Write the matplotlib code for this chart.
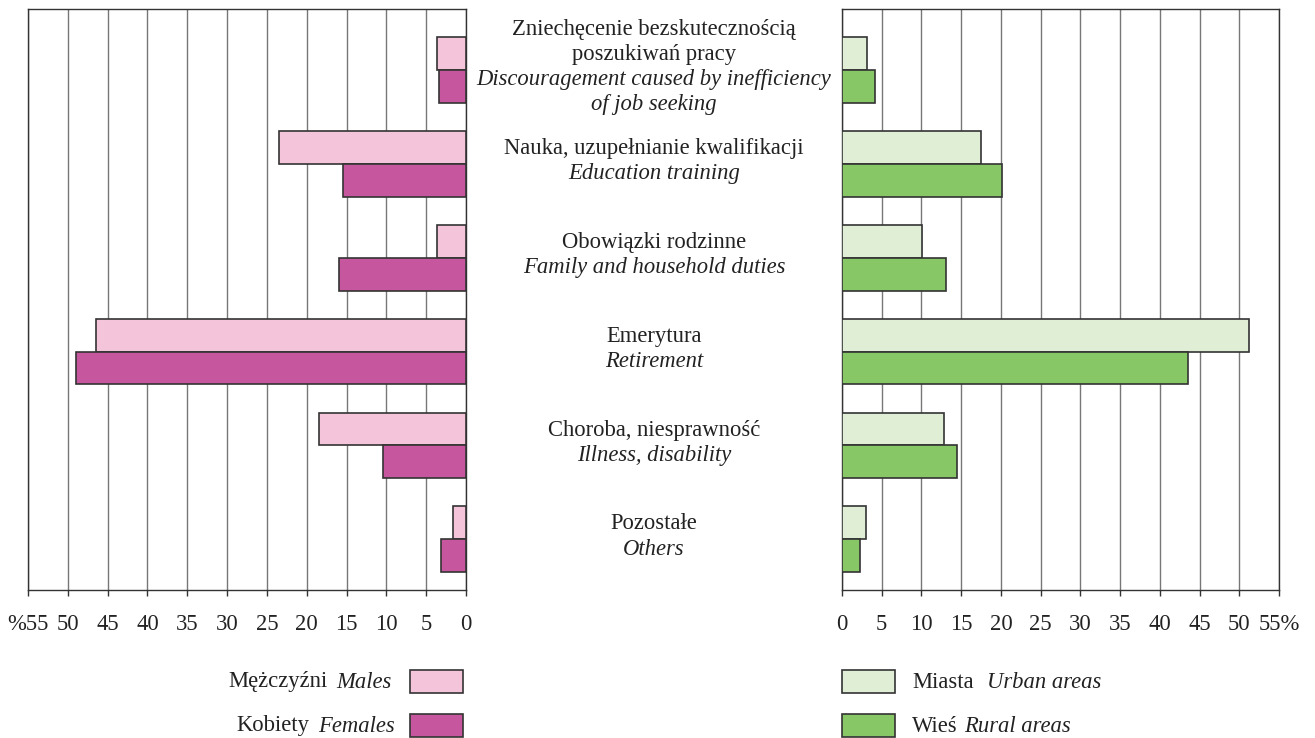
import matplotlib.pyplot as plt
import numpy as np
from matplotlib.patches import Rectangle
from matplotlib.transforms import blended_transform_factory

plt.rcParams['font.family'] = ['Liberation Serif', 'DejaVu Serif']

# dane (%)
kategorie_pl = [["Zniechęcenie bezskutecznością", "poszukiwań pracy"],
                ["Nauka, uzupełnianie kwalifikacji"],
                ["Obowiązki rodzinne"],
                ["Emerytura"],
                ["Choroba, niesprawność"],
                ["Pozostałe"]]
kategorie_en = [["Discouragement caused by inefficiency", "of job seeking"],
                ["Education training"],
                ["Family and household duties"],
                ["Retirement"],
                ["Illness, disability"],
                ["Others"]]
mezczyzni = [3.7, 23.5, 3.6, 46.5, 18.5, 1.6]
kobiety = [3.4, 15.5, 16.0, 49.0, 10.4, 3.2]
miasta = [3.1, 17.5, 10.1, 51.2, 12.9, 3.0]
wies = [4.1, 20.2, 13.1, 43.6, 14.5, 2.3]

ticks = list(range(0, 60, 5))
lewe_etykiety = [str(t) for t in ticks[:-1]] + ["%55"]
prawe_etykiety = [str(t) for t in ticks[:-1]] + ["55%"]

c_m, c_k = "#F3C4DA", "#C6579E"
c_mi, c_w = "#E0EED6", "#88C766"
krawedz = "#333333"
fs = 16.3

W, H = 1315, 738
fig = plt.figure(figsize=(W / 100, H / 100), dpi=100)
renderer = fig.canvas.get_renderer()

def px_axes(x0, x1, y0, y1):
    return fig.add_axes([x0 / W, 1 - y1 / H, (x1 - x0) / W, (y1 - y0) / H])

ax_l = px_axes(28, 466, 9, 590)
ax_r = px_axes(842, 1279, 9, 590)

y = np.arange(len(mezczyzni))
h = 0.35

ax_l.barh(y - h / 2, mezczyzni, height=h, color=c_m, edgecolor=krawedz, linewidth=1.2, zorder=3)
ax_l.barh(y + h / 2, kobiety, height=h, color=c_k, edgecolor=krawedz, linewidth=1.2, zorder=3)
ax_r.barh(y - h / 2, miasta, height=h, color=c_mi, edgecolor=krawedz, linewidth=1.2, zorder=3)
ax_r.barh(y + h / 2, wies, height=h, color=c_w, edgecolor=krawedz, linewidth=1.2, zorder=3)

for ax, etyk in [(ax_l, lewe_etykiety), (ax_r, prawe_etykiety)]:
    ax.set_xlim(0, 55)
    ax.set_ylim(5.54, -0.65)
    ax.set_xticks(ticks)
    ax.set_xticklabels(etyk, fontsize=fs, color='#222222')
    ax.set_yticks([])
    ax.grid(axis='x', color='#777777', linewidth=1.0, zorder=0)
    ax.tick_params(axis='x', direction='out', length=4, width=1, pad=13, color='#333333')
    for s in ax.spines.values():
        s.set_color('#333333')
        s.set_linewidth(1.0)
ax_l.invert_xaxis()

# opisy kategorii
tr = blended_transform_factory(fig.transFigure, ax_l.transData)
xc = 654 / W
dl = 25 / 93.8
for i in range(len(kategorie_pl)):
    linie = [(t, 'normal') for t in kategorie_pl[i]] + [(t, 'italic') for t in kategorie_en[i]]
    n = len(linie)
    start = i - 0.03 - (n - 1) / 2 * dl
    for j, (t, st) in enumerate(linie):
        fig.text(xc, start + j * dl, t, transform=tr, ha='center', va='center',
                 fontsize=fs, style=st, color='#222222')

# legenda
def legenda(x0, y0, kolor):
    fig.patches.append(Rectangle((x0 / W, 1 - (y0 + 23) / H), 53 / W, 23 / H,
                                 transform=fig.transFigure, facecolor=kolor,
                                 edgecolor=krawedz, linewidth=1.2))

legenda(410, 670, c_m)
legenda(410, 714, c_k)
legenda(842, 670, c_mi)
legenda(842, 714, c_w)

def napis(x, yy, t, st, ha='left'):
    return fig.text(x / W, 1 - yy / H, t, ha=ha, va='center', fontsize=fs, style=st, color='#222222')

def opis_lewy(x_prawy, yy, pl, en, odstep=9):
    t_en = napis(x_prawy, yy, en, 'italic', ha='right')
    x0 = t_en.get_window_extent(renderer).x0
    napis(x0 - odstep, yy, pl, 'normal', ha='right')

def opis_prawy(x_lewy, yy, pl, en, odstep=13):
    t_pl = napis(x_lewy, yy, pl, 'normal')
    x1 = t_pl.get_window_extent(renderer).x1
    napis(x1 + odstep, yy, en, 'italic')

opis_lewy(392, 682, "Mężczyźni", "Males")
opis_lewy(395, 726, "Kobiety", "Females")
opis_prawy(912, 682, "Miasta", "Urban areas")
opis_prawy(912, 726, "Wieś", "Rural areas", odstep=6)

fig.savefig("out.png", dpi=100)
